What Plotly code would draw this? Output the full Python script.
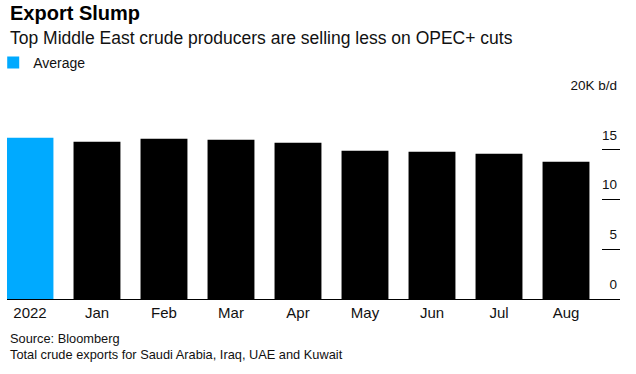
import plotly.graph_objects as go

categories = ["2022", "Jan", "Feb", "Mar", "Apr", "May", "Jun", "Jul", "Aug"]
values = [16.2, 15.8, 16.1, 16.0, 15.7, 14.9, 14.8, 14.6, 13.8]
tick_vals = [0, 5, 10, 15, 20]
tick_text = ["0", "5", "10", "15", "20K b/d"]

FONT = "Liberation Sans, Arial, Helvetica, sans-serif"
BLUE = "#00aaff"

fig = go.Figure()
fig.add_trace(go.Bar(x=categories[:1], y=values[:1], name="Average",
                     marker=dict(color=BLUE, line=dict(width=0)), showlegend=True))
fig.add_trace(go.Bar(x=categories[1:], y=values[1:], name="Monthly",
                     marker=dict(color="#000000", line=dict(width=0)), showlegend=False))

fig.update_layout(
    width=636, height=374,
    margin=dict(l=7, r=16, t=100, b=75, autoexpand=False),
    paper_bgcolor="white", plot_bgcolor="white",
    barmode="overlay", bargap=0.3,
    font=dict(family=FONT, color="#000000"),
    showlegend=True,
    legend=dict(x=-0.0225, y=(299 - 63) / 199,
                xanchor="left", yanchor="middle",
                orientation="h", font=dict(size=14, color="#111"),
                bgcolor="rgba(0,0,0,0)", itemwidth=30),
    xaxis=dict(type="category", categoryorder="array", categoryarray=categories,
               range=[-0.343, 8.806], showline=True, linecolor="#000", linewidth=1,
               ticks="", tickfont=dict(size=15, color="#111"), showgrid=False,
               fixedrange=True),
    yaxis=dict(range=[0, 20], side="right", tickvals=tick_vals, ticktext=tick_text,
               ticks="inside", ticklen=18, tickcolor="#000", tickwidth=1,
               ticklabelposition="inside top", ticklabeloverflow="allow",
               ticklabelshift=-5,
               showgrid=False, zeroline=False,
               showline=False, tickfont=dict(size=13.5, color="#111"), fixedrange=True),
    annotations=[
        dict(text="<b>Export Slump</b>", xref="paper", yref="paper", x=0.002, y=1.437,
             xanchor="left", yanchor="middle", showarrow=False,
             font=dict(size=20, color="#000")),
        dict(text="Top Middle East crude producers are selling less on OPEC+ cuts",
             xref="paper", yref="paper", x=0.002, y=1.312, xanchor="left",
             yanchor="middle", showarrow=False, font=dict(size=17.5, color="#111")),
        dict(text="Source: Bloomberg", xref="paper", yref="paper", x=0.002, y=-0.201,
             xanchor="left", yanchor="middle", showarrow=False,
             font=dict(size=12.8, color="#111")),
        dict(text="Total crude exports for Saudi Arabia, Iraq, UAE and Kuwait",
             xref="paper", yref="paper", x=0.002, y=-0.281, xanchor="left",
             yanchor="middle", showarrow=False, font=dict(size=12.8, color="#111")),
    ],
)

fig.write_html("out.html", config={"displayModeBar": False},
               post_script="document.body.style.margin='0px';")
